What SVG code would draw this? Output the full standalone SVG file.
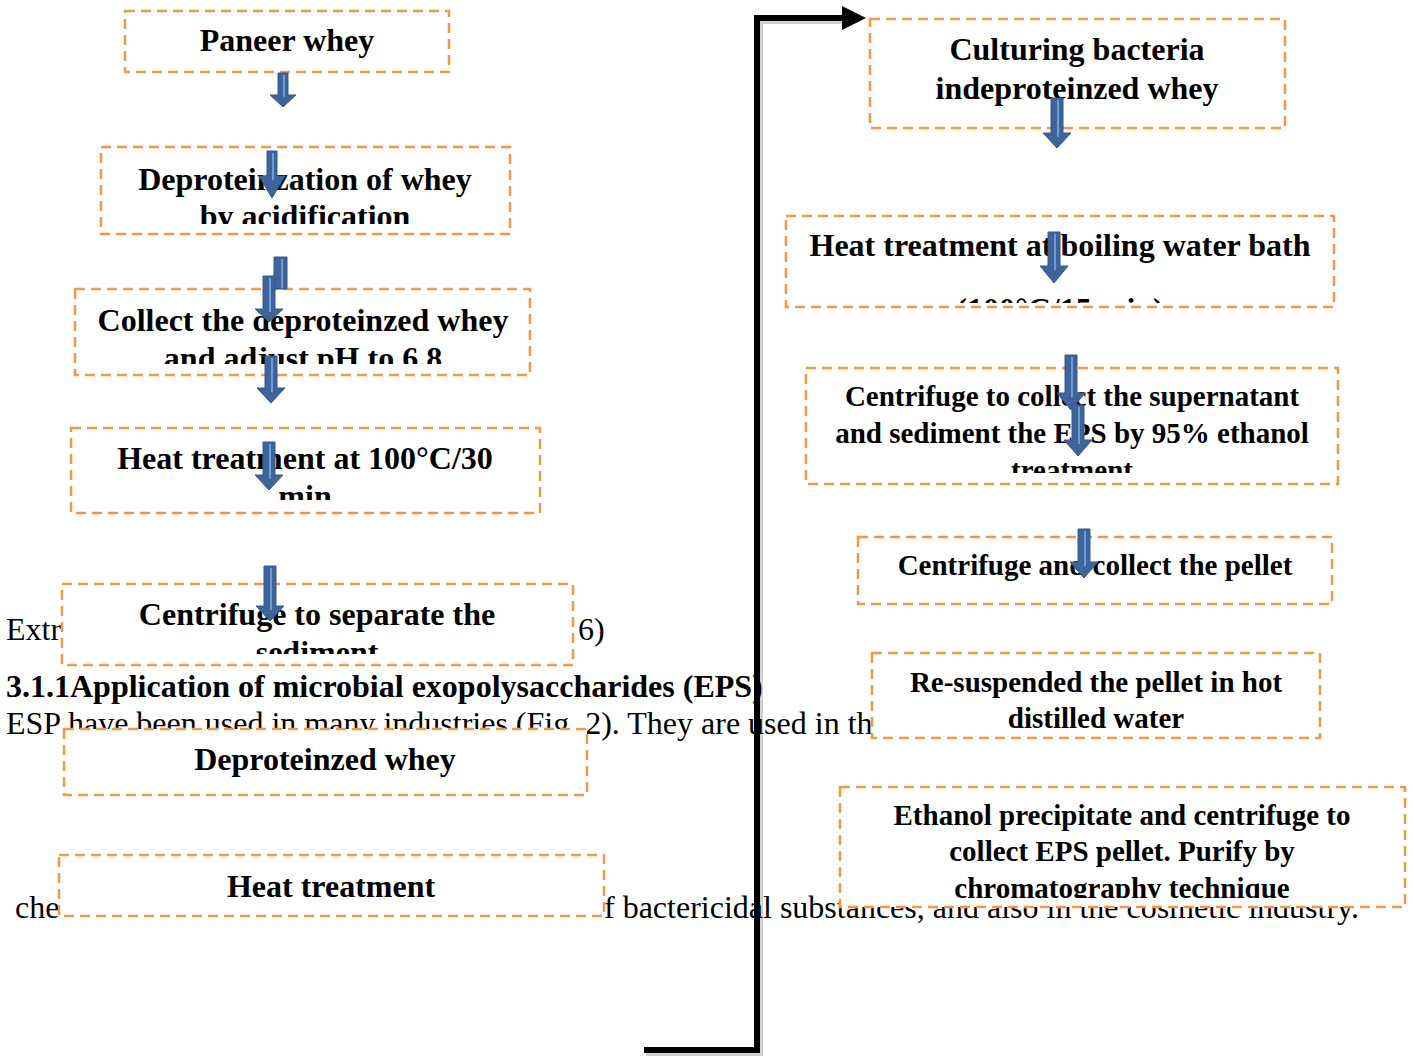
<svg xmlns="http://www.w3.org/2000/svg" width="1413" height="1056" viewBox="0 0 1413 1056">
<style>
.bg{font-family:"Liberation Serif","Times New Roman",serif;font-size:32px;fill:#000}
.bgb{font-family:"Liberation Serif","Times New Roman",serif;font-size:32px;font-weight:bold;fill:#000}
.box{fill:#fff;stroke:#F79646;stroke-width:2.5;stroke-dasharray:10,6}
.t{font-family:"Liberation Serif","Times New Roman",serif;font-weight:bold;fill:#000;text-anchor:middle}
.t32{font-size:32px}
.t29{font-size:29px}
.barrow{fill:#3E6499;stroke:#34598C;stroke-width:1}
.stripe{stroke:#6E9CD6;stroke-width:2}
.conn{fill:none;stroke:#000;stroke-width:6;stroke-linejoin:miter}
.shadow{fill:none;stroke:#000;stroke-opacity:0.18;stroke-width:6}
</style>
<defs>
<marker id="ah" markerWidth="5" markerHeight="5" refX="1" refY="2.5" orient="auto" markerUnits="strokeWidth">
<path d="M0,0.5 L4,2.5 L0,4.5 Z" fill="#000"/>
</marker>
<clipPath id="c2"><rect x="101" y="147" width="409" height="77"/></clipPath>
<clipPath id="c3"><rect x="75" y="289" width="455" height="75"/></clipPath>
<clipPath id="c4"><rect x="71" y="428" width="469" height="72"/></clipPath>
<clipPath id="c5"><rect x="62" y="584" width="511" height="70"/></clipPath>
<clipPath id="c9"><rect x="786" y="216" width="548" height="87"/></clipPath>
<clipPath id="c10"><rect x="806" y="368" width="532" height="105"/></clipPath>
<clipPath id="c13"><rect x="840" y="787" width="565" height="111"/></clipPath>
</defs>
<rect width="1413" height="1056" fill="#fff"/>

<g id="page-text">
<text class="bg" x="6" y="640">Extr</text>
<text class="bg" x="578" y="640">6)</text>
<text class="bgb" x="6" y="697">3.1.1Application of microbial exopolysaccharides (EPS)</text>
<text class="bg" x="6" y="734">ESP have been used in many industries (Fig. 2). They are used in th</text>
<text class="bg" x="15" y="918">che</text>
<text class="bg" x="604" y="918">f bactericidal substances, and also in the cosmetic industry.</text>
</g>

<g id="n1"><rect class="box" x="125" y="11" width="324" height="61"/>
<text class="t t32" x="287" y="51">Paneer whey</text></g>

<g id="n2"><rect class="box" x="101" y="147" width="409" height="87"/>
<g clip-path="url(#c2)"><text class="t t32" x="305" y="190">Deproteinzation of whey</text>
<text class="t t32" x="305" y="227">by acidification</text></g></g>

<g id="n3"><rect class="box" x="75" y="289" width="455" height="86"/>
<g clip-path="url(#c3)"><text class="t t32" x="303" y="331">Collect the deproteinzed whey</text>
<text class="t t32" x="303" y="369">and adjust pH to 6.8</text></g></g>

<g id="n4"><rect class="box" x="71" y="428" width="469" height="85"/>
<g clip-path="url(#c4)"><text class="t t32" x="305" y="469">Heat treatment at 100°C/30</text>
<text class="t t32" x="305" y="507">min</text></g></g>

<g id="n5"><rect class="box" x="62" y="584" width="511" height="81"/>
<g clip-path="url(#c5)"><text class="t t32" x="317" y="625">Centrifuge to separate the</text>
<text class="t t32" x="317" y="663">sediment</text></g></g>

<g id="n6"><rect class="box" x="64" y="729" width="523" height="66"/>
<text class="t t32" x="325" y="770">Deproteinzed whey</text></g>

<g id="n7"><rect class="box" x="59" y="855" width="545" height="61"/>
<text class="t t32" x="331" y="897">Heat treatment</text></g>

<g id="n8"><rect class="box" x="870" y="19" width="415" height="109"/>
<text class="t t32" x="1077" y="60">Culturing bacteria</text>
<text class="t t32" x="1077" y="99">indeproteinzed whey</text></g>

<g id="n9"><rect class="box" x="786" y="216" width="548" height="91"/>
<g clip-path="url(#c9)"><text class="t t32" x="1060" y="256">Heat treatment at boiling water bath</text>
<text class="t t32" x="1060" y="320">(100°C/15 min)</text></g></g>

<g id="n10"><rect class="box" x="806" y="368" width="532" height="116"/>
<g clip-path="url(#c10)"><text class="t t29" x="1072" y="406">Centrifuge to collect the supernatant</text>
<text class="t t29" x="1072" y="443">and sediment the EPS by 95% ethanol</text>
<text class="t t29" x="1072" y="480">treatment</text></g></g>

<g id="n11"><rect class="box" x="858" y="537" width="474" height="67"/>
<text class="t t29" x="1095" y="575">Centrifuge and collect the pellet</text></g>

<g id="n12"><rect class="box" x="872" y="653" width="448" height="85"/>
<text class="t t29" x="1096" y="692">Re-suspended the pellet in hot</text>
<text class="t t29" x="1096" y="728">distilled water</text></g>

<g id="n13"><rect class="box" x="840" y="787" width="565" height="120"/>
<g clip-path="url(#c13)"><text class="t t29" x="1122" y="825">Ethanol precipitate and centrifuge to</text>
<text class="t t29" x="1122" y="861">collect EPS pellet. Purify by</text>
<text class="t t29" x="1122" y="898">chromatography technique</text></g></g>

<g id="connectors">
<path class="shadow" d="M646,1053 H760 V21 H850"/>
<path class="conn" d="M644,1050 H757 V18 H848" marker-end="url(#ah)"/>

<path class="barrow" d="M278,73 H288 V95 H296 L283,107 L270,95 H278 Z"/><line class="stripe" x1="284" y1="75" x2="284" y2="97"/>
<path class="barrow" d="M267,151 H277 V176 H285 L272,198 L259,176 H267 Z"/><line class="stripe" x1="273" y1="153" x2="273" y2="180"/>
<path class="barrow" d="M274,257 H287 V289 H274 Z"/><line class="stripe" x1="282" y1="259" x2="282" y2="288"/>
<path class="barrow" d="M263,276 H275 V309 H283 L269,322 L255,309 H263 Z"/><line class="stripe" x1="270" y1="278" x2="270" y2="312"/>
<path class="barrow" d="M265,356 H277 V388 H285 L271,403 L257,388 H265 Z"/><line class="stripe" x1="272" y1="358" x2="272" y2="392"/>
<path class="barrow" d="M263,442 H275 V475 H283 L269,490 L255,475 H263 Z"/><line class="stripe" x1="270" y1="444" x2="270" y2="479"/>
<path class="barrow" d="M264,566 H276 V606 H284 L270,621 L256,606 H264 Z"/><line class="stripe" x1="271" y1="568" x2="271" y2="610"/>

<path class="barrow" d="M1051,98 H1063 V133 H1071 L1057,148 L1043,133 H1051 Z"/><line class="stripe" x1="1058" y1="100" x2="1058" y2="137"/>
<path class="barrow" d="M1048,232 H1060 V266 H1068 L1054,283 L1040,266 H1048 Z"/><line class="stripe" x1="1055" y1="234" x2="1055" y2="270"/>
<path class="barrow" d="M1065,355 H1077 V393 H1085 L1071,410 L1057,393 H1065 Z"/><line class="stripe" x1="1072" y1="357" x2="1072" y2="397"/>
<path class="barrow" d="M1072,405 H1084 V440 H1092 L1078,456 L1064,440 H1072 Z"/><line class="stripe" x1="1079" y1="407" x2="1079" y2="444"/>
<path class="barrow" d="M1078,529 H1090 V562 H1098 L1084,578 L1070,562 H1078 Z"/><line class="stripe" x1="1085" y1="531" x2="1085" y2="566"/>
</g>
</svg>
